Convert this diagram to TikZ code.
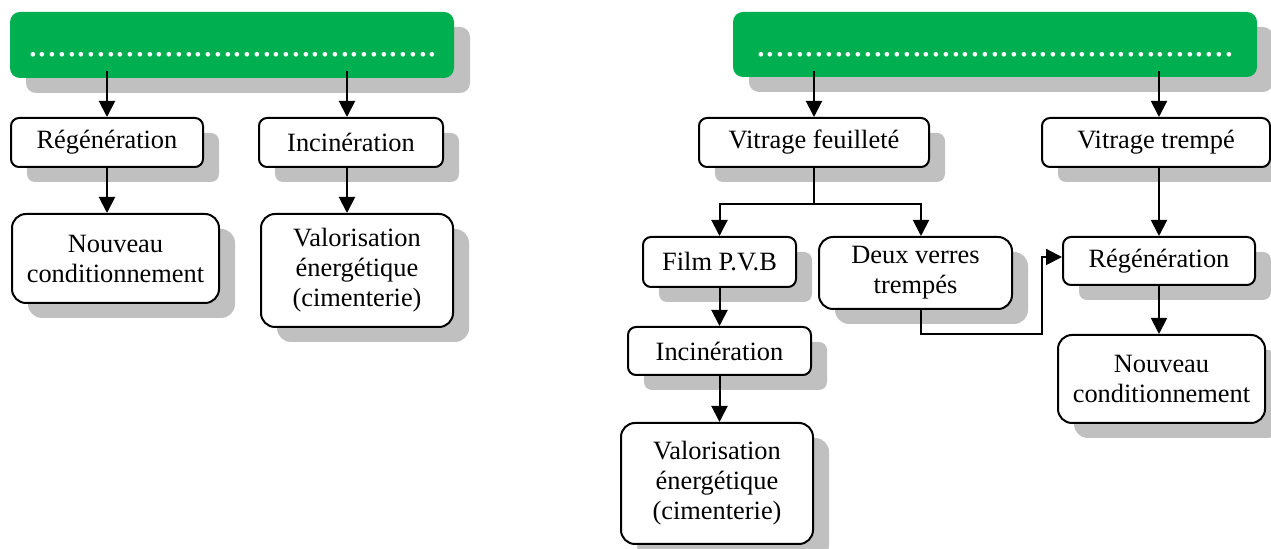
\documentclass[tikz,border=0pt]{standalone}
\usepackage{fontspec}
\setmainfont{Liberation Serif}
\usetikzlibrary{arrows.meta,shadows}
\definecolor{offgreen}{HTML}{00B050}
\definecolor{shadowgray}{HTML}{C0C0C0}
\tikzset{
  shad/.style={drop shadow={shadow xshift=8pt, shadow yshift=-7.5pt, fill=shadowgray, opacity=1}},
  box/.style={shad, draw, line width=1pt, fill=white, rounded corners=4pt, align=center, inner sep=0pt,
    font=\fontsize{13.2}{15}\selectfont},
  bigbox/.style={box, rounded corners=7pt},
  headbox/.style={shad, fill=offgreen, rounded corners=5pt, inner sep=0pt},
  dots/.style={text=white, font=\fontsize{19.5}{19.5}\selectfont, anchor=base, inner sep=0pt},
  arr/.style={line width=1pt, -{Triangle[length=8pt,width=8pt]}},
  ln/.style={line width=1pt}
}
\begin{document}
\begin{tikzpicture}[x=0.5pt,y=-0.5pt]
\clip (0,0) rectangle (1271,549);
% headers
\node[headbox, minimum width=222pt, minimum height=33pt] (G1) at (232,45) {};
\node[headbox, minimum width=262pt, minimum height=32.5pt] (G2) at (995,44.5) {};
\node[dots] (D1) at (233,56.5) {..........................................};
\node[dots] (D2) at (995,56.5) {.................................................};
% left tree
\node[box, minimum width=96pt, minimum height=24.5pt] (R1) at (107,142.5) {Régénération};
\node[box, minimum width=92pt, minimum height=24.5pt] (I1) at (351,142.5) {Incinération};
\node[bigbox, minimum width=103.5pt, minimum height=44.5pt] (N1) at (115.5,258.5) {Nouveau\\conditionnement};
\node[bigbox, minimum width=96pt, minimum height=56.5pt] (V1) at (357,270.5) {Valorisation\\énergétique\\(cimenterie)};
% right tree
\node[box, minimum width=115pt, minimum height=24.5pt] (VF) at (814,142.5) {Vitrage feuilleté};
\node[box, minimum width=114pt, minimum height=24.5pt] (VT) at (1156,142.5) {Vitrage trempé};
\node[box, minimum width=76.5pt, minimum height=25pt] (FP) at (719.5,262) {Film P.V.B};
\node[bigbox, minimum width=96.5pt, minimum height=36pt] (DV) at (915.5,273) {Deux verres\\trempés};
\node[box, minimum width=96pt, minimum height=24pt] (R2) at (1159,261) {Régénération};
\node[box, minimum width=91.5pt, minimum height=24pt] (I2) at (719.5,351) {Incinération};
\node[bigbox, minimum width=96pt, minimum height=60.5pt] (V2) at (717,483.5) {Valorisation\\énergétique\\(cimenterie)};
\node[bigbox, minimum width=103.5pt, minimum height=44pt] (N2) at (1161.5,379) {Nouveau\\conditionnement};
% coordinates
\coordinate (g1a) at (107,71);
\coordinate (g1b) at (347,71);
\coordinate (g2a) at (814,71);
\coordinate (g2b) at (1159,71);
\coordinate (split) at (814,204);
\coordinate (dvx) at (921,309);
\coordinate (k1) at (1042,334);
\coordinate (k2) at (1042,257);
% connectors left
\draw[arr] (g1a) -- (g1a |- R1.north);
\draw[arr] (g1b) -- (g1b |- I1.north);
\draw[arr] (R1.south) -- (R1.south |- N1.north);
\draw[arr] (g1b |- I1.south) -- (g1b |- V1.north);
% connectors right
\draw[arr] (g2a) -- (g2a |- VF.north);
\draw[arr] (g2b) -- (g2b |- VT.north);
\draw[ln] (VF.south) -- (split);
\draw[arr] (split) -| (FP.north);
\draw[arr] (split) -| (dvx |- DV.north);
\draw[arr] (g2b |- VT.south) -- (g2b |- R2.north);
\draw[arr] (dvx |- DV.south) |- (k1) -- (k2) -- (k2 -| R2.west);
\draw[arr] (FP.south) -- (FP.south |- I2.north);
\draw[arr] (I2.south) -- (I2.south |- V2.north);
\draw[arr] (R2.south) -- (R2.south |- N2.north);
\end{tikzpicture}
\end{document}
